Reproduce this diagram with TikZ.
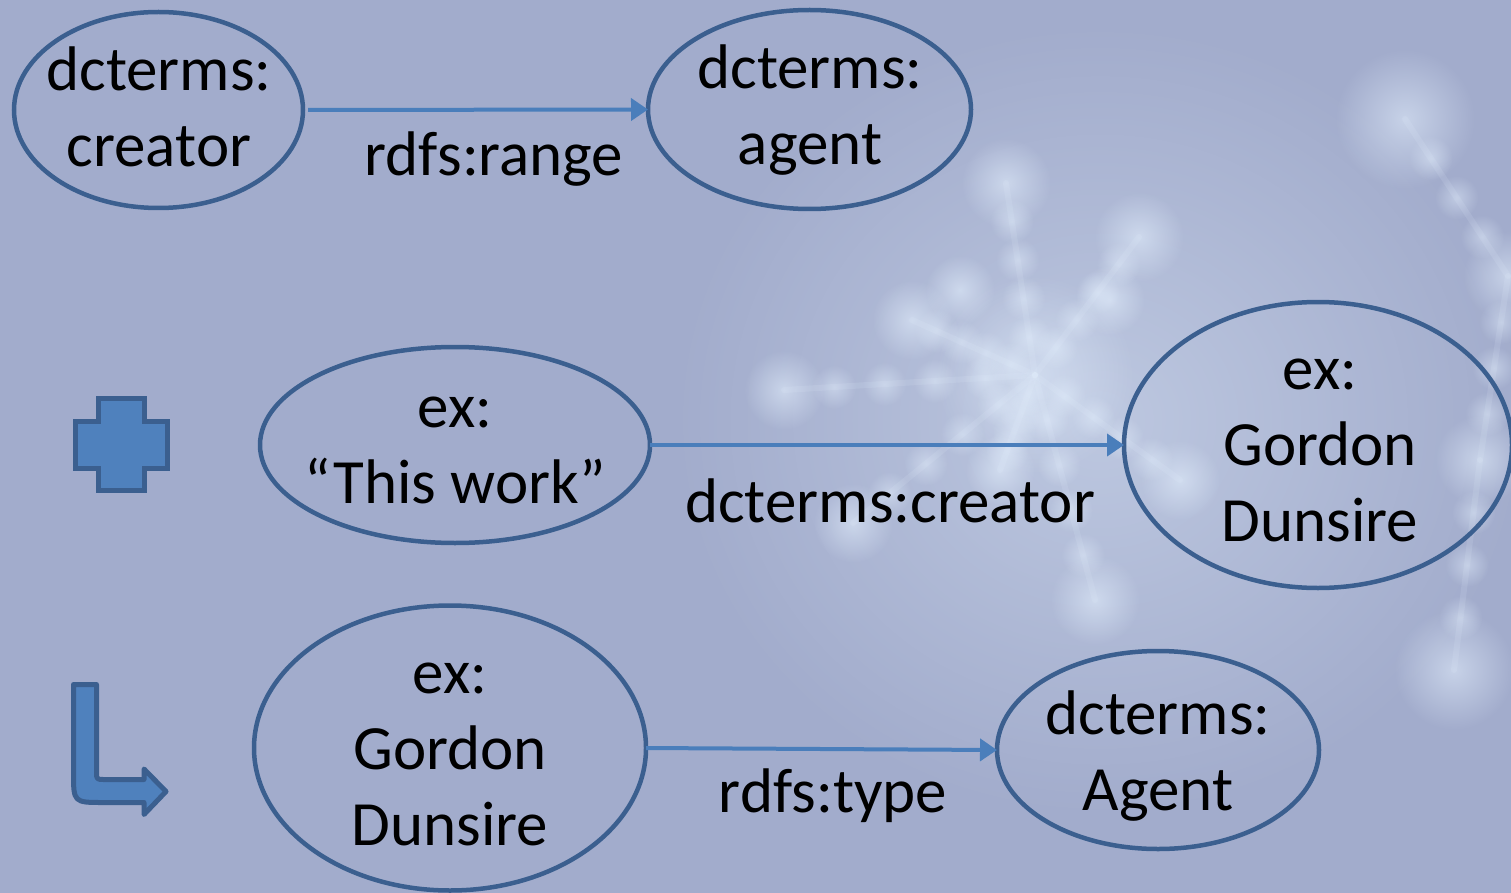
\documentclass[tikz,border=0pt]{standalone}
\usepackage{fontspec}
\setmainfont{Carlito}
\usetikzlibrary{arrows.meta,fadings,shapes.geometric,calc}
\definecolor{bg}{HTML}{A2ACCC}
\definecolor{edgec}{HTML}{3B5F8F}
\definecolor{arrc}{HTML}{4A7EBB}
\definecolor{iconfill}{HTML}{4F81BD}
\definecolor{glowc}{HTML}{E6F2FF}
\tikzfading[name=fuzzy, inner color=transparent!0, outer color=transparent!100]
\tikzset{
  ell/.style={ellipse, draw=edgec, line width=4.5pt, inner sep=0pt, outer sep=0pt},
  txt/.style={anchor=base, inner sep=0pt, align=center, font=\fontsize{63}{76}\selectfont},
  link/.style={draw=arrc, line width=4pt, -{Triangle[length=17pt,width=22pt]}},
  iconshape/.style={fill=iconfill, draw=edgec, line width=5pt},
  glowspot/.style={fill=glowc, path fading=fuzzy, opacity=#1},
  branch/.style={draw=glowc, line cap=round, line width=#1, opacity=0.12},
}
\begin{document}
\begin{tikzpicture}[x=1pt,y=-1pt]
\useasboundingbox (0,0) rectangle (1511,893);
\fill[bg] (0,0) rectangle (1511,893);
% decorative fractal glow
\fill[glowspot=0.4] (1100,420) ellipse [x radius=430, y radius=400];
\fill[glowspot=0.5] (1035,375) ellipse [x radius=100, y radius=100];
\coordinate (fc) at (1035,375);
\foreach \bx/\by in {1006/183,1139/237,912/320,784/390,853/523,1095/600,1180/480,1000/470}{
  \draw[branch=6pt] (fc) -- (\bx,\by);
  \foreach \t in {0.2,0.4,0.6,0.8}{
    \fill[glowspot=0.45] ($(fc)!\t!(\bx,\by)$) ellipse [x radius=22, y radius=22];
  }
}
\coordinate (fr1) at (1405,119);
\coordinate (fr2) at (1508,276);
\coordinate (fr3) at (1480,460);
\coordinate (fr4) at (1454,670);
\foreach \pa/\pb in {fr1/fr2,fr2/fr3,fr3/fr4}{
  \draw[branch=6pt] (\pa) -- (\pb);
  \foreach \t in {0.25,0.5,0.75}{
    \fill[glowspot=0.45] ($(\pa)!\t!(\pb)$) ellipse [x radius=22, y radius=22];
  }
}
\foreach \gx/\gy/\gr in {1006/183/45,1139/237/45,912/320/40,784/390/40,853/523/40,1095/600/45,1405/119/70,1508/276/45,1454/670/60,1480/460/45,960/290/35,1110/300/35,1180/480/40,1000/470/35}{
  \fill[glowspot=0.55] (\gx,\gy) ellipse [x radius=\gr, y radius=\gr];
}
% ellipses
\node[ell, minimum width=289pt, minimum height=196pt] (creator) at (158.5,110) {};
\node[ell, minimum width=323pt, minimum height=199pt] (agent) at (809.5,109.5) {};
\node[ell, minimum width=390pt, minimum height=196pt] (work) at (455,445) {};
\node[ell, minimum width=388pt, minimum height=286pt] (gordonA) at (1318,445) {};
\node[ell, minimum width=392pt, minimum height=285pt] (gordonB) at (450,748) {};
\node[ell, minimum width=322pt, minimum height=198pt] (Agent) at (1158,750) {};
% texts (anchor = baseline of last line)
\node[txt] (t1) at (159,167) {dcterms:\\creator};
\node[txt] (t2) at (810,165) {dcterms:\\agent};
\node[txt] (t3) at (455,503) {ex:\\“This work”};
\node[txt] (t4) at (1320,541) {ex:\\Gordon\\Dunsire};
\node[txt] (t5) at (450,845) {ex:\\Gordon\\Dunsire};
\node[txt] (t6) at (1158,810) {dcterms:\\Agent};
% connectors
\draw[link, shorten <=5pt] (creator.east) -- (agent.west);
\draw[link] (work.east) -- (gordonA.west);
\draw[link] (gordonB.east) -- (Agent.west);
\node[txt] (l1) at (494,176) {rdfs:range};
\node[txt] (l2) at (890,522) {dcterms:creator};
\node[txt] (l3) at (833,812) {rdfs:type};
% icons
\draw[iconshape, line join=miter] (98.5,398.5) -- (144.5,398.5) -- (144.5,421.5) -- (167.5,421.5) -- (167.5,468) -- (144.5,468) -- (144.5,490.5) -- (98.5,490.5) -- (98.5,468) -- (75.5,468) -- (75.5,421.5) -- (98.5,421.5) -- cycle;
\draw[iconshape, line join=round] (73.5,684.5) -- (96.5,684.5) -- (96.5,771.5) .. controls (96.5,779.5) .. (104.5,779.5) -- (144,779.5) -- (144,769) -- (166,791.5) -- (144,814.5) -- (144,802.5) -- (103.5,802.5) .. controls (73.5,802.5) .. (73.5,772.5) -- cycle;
\end{tikzpicture}
\end{document}
